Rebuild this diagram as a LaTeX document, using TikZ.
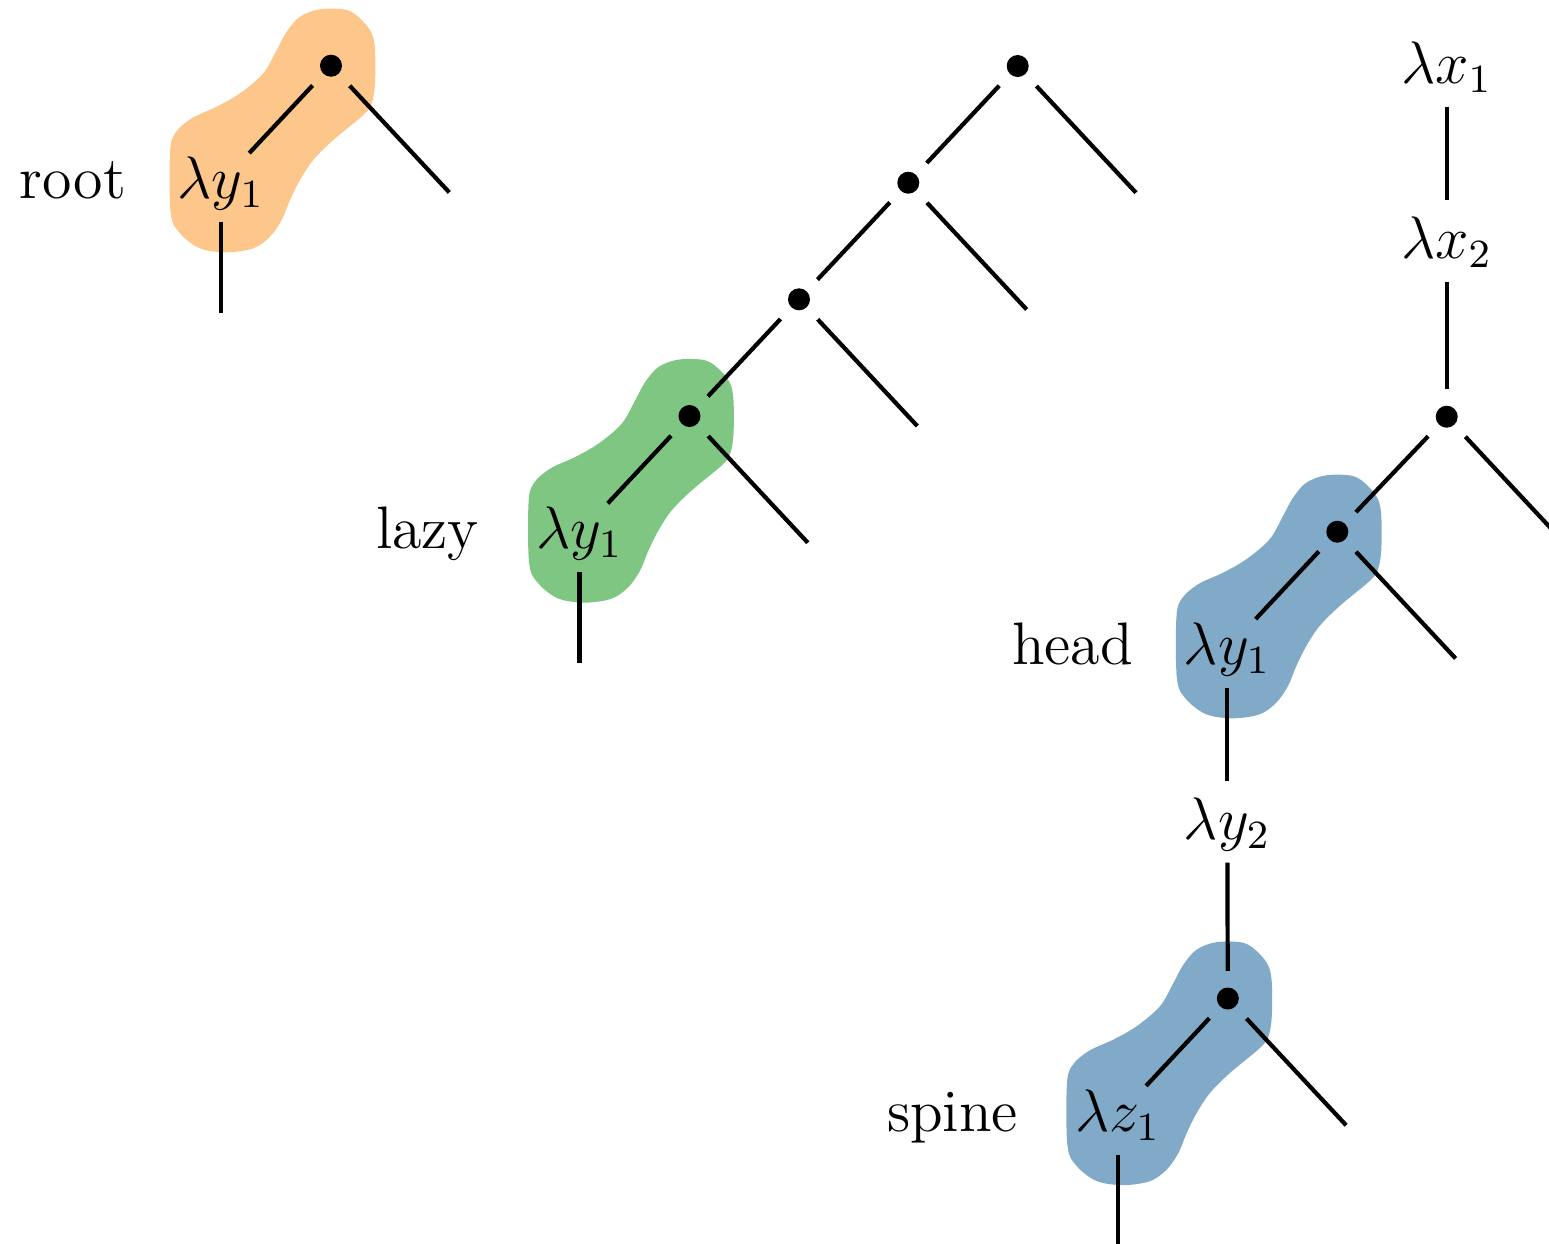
\documentclass[12pt,tikz,border=0pt]{standalone}
\usetikzlibrary{backgrounds}

\definecolor{hlorange}{RGB}{253,198,139}
\definecolor{hlgreen}{RGB}{128,198,131}
\definecolor{hlblue}{RGB}{128,170,199}

\tikzset{
  edge/.style={line width=0.84pt},
  appnode/.style={circle,fill=black,inner sep=0pt,minimum size=4.4pt},
  lam/.style={inner sep=0pt,text height=8.33pt,text depth=2.33pt},
  tag/.style={inner sep=0pt,anchor=base east},
  d2d/.style={edge,shorten <=5.4pt,shorten >=5.4pt},
  d2l/.style={edge,shorten <=5.4pt,shorten >=8.28pt},
  d2leaf/.style={edge,shorten <=5.48pt},
  l2l/.style={edge,shorten <=7.68pt,shorten >=8.64pt},
  l2d/.style={edge,shorten <=7.68pt,shorten >=5.52pt},
  l2leaf/.style={edge,shorten <=7.68pt},
  blob/.pic={
    \path[pic actions] plot[smooth cycle,tension=0.55] coordinates {
      (-11,-56.4) (15.7,-55.7) (30.7,-45.7) (40.7,-32.4) (44,-15.7)
      (44,17.6) (40.7,37.6) (32.3,49.3) (2.3,74.3) (-17.7,94.3)
      (-31,114.3) (-41,134.3) (-49.3,154.3) (-61,171) (-77.7,182.6)
      (-104.3,186.6) (-131,182.6) (-151,167.6) (-160.3,147.6) (-161,87.6)
      (-156,67.6) (-139.3,52.6) (-114.3,41) (-91,27.6) (-67.7,7.6)
      (-54.3,-15.7) (-44.3,-34) (-31,-49)};
  }
}

\begin{document}
\begin{tikzpicture}[x=0.2pt,y=-0.2pt]
\useasboundingbox (0,0) rectangle (1549,1243);
\clip (0,0) rectangle (1549,1243);

% ---- root tree ----
\node[appnode] (r-app) at (331,65.7) {};
\node[lam] (r-lam) at (221,183.3) {$\lambda y_1$};
\coordinate (r-rl) at (449.3,192.4);
\coordinate (r-ll) at (221,313);
\node[tag] (r-tag) at (127,198.3) {root};
\draw[d2l] (r-app.center) -- (r-lam.center);
\draw[d2leaf] (r-app.center) -- (r-rl);
\draw[l2leaf] (r-lam.center) -- (r-ll);

% ---- lazy spine ----
\node[appnode] (z-a1) at (1017.7,66) {};
\node[appnode] (z-a2) at (908.3,182.7) {};
\node[appnode] (z-a3) at (799,299.3) {};
\node[appnode] (z-a4) at (689.5,416) {};
\coordinate (z-rl1) at (1136,192.7);
\coordinate (z-rl2) at (1026.6,309.4);
\coordinate (z-rl3) at (917.3,426);
\coordinate (z-rl4) at (807.8,542.7);
\node[lam] (z-lam) at (579.5,533.6) {$\lambda y_1$};
\coordinate (z-ll) at (579.5,663);
\node[tag] (z-tag) at (480,548.6) {lazy};
\draw[d2d] (z-a1.center) -- (z-a2.center);
\draw[d2d] (z-a2.center) -- (z-a3.center);
\draw[d2d] (z-a3.center) -- (z-a4.center);
\draw[d2l] (z-a4.center) -- (z-lam.center);
\foreach \i in {1,2,3,4} \draw[d2leaf] (z-a\i.center) -- (z-rl\i);
\draw[l2leaf] (z-lam.center) -- (z-ll);

% ---- head / spine tree ----
\node[lam] (h-x1) at (1446.7,68.3) {$\lambda x_1$};
\node[lam] (h-x2) at (1446.7,243.3) {$\lambda x_2$};
\node[appnode] (h-a1) at (1446.7,416.7) {};
\coordinate (h-rl1) at (1565,543.4);
\node[appnode] (h-a2) at (1337.3,531.7) {};
\coordinate (h-rl2) at (1455.6,658.4);
\node[lam] (h-y1) at (1227.3,649.3) {$\lambda y_1$};
\node[lam] (h-y2) at (1227.3,824.3) {$\lambda y_2$};
\node[appnode] (h-a3) at (1227.8,998.5) {};
\coordinate (h-rl3) at (1346.1,1125.2);
\node[lam] (h-z1) at (1117.8,1116.1) {$\lambda z_1$};
\coordinate (h-ll) at (1117.8,1250);
\node[tag] (h-tag) at (1134,664.3) {head};
\node[tag] (s-tag) at (1019,1131.1) {spine};
\draw[l2l] (h-x1.center) -- (h-x2.center);
\draw[l2d] (h-x2.center) -- (h-a1.center);
\draw[d2leaf] (h-a1.center) -- (h-rl1);
\draw[d2d] (h-a1.center) -- (h-a2.center);
\draw[d2leaf] (h-a2.center) -- (h-rl2);
\draw[d2l] (h-a2.center) -- (h-y1.center);
\draw[l2l] (h-y1.center) -- (h-y2.center);
\draw[l2d] (h-y2.center) -- (h-a3.center);
\draw[d2leaf] (h-a3.center) -- (h-rl3);
\draw[d2l] (h-a3.center) -- (h-z1.center);
\draw[l2leaf] (h-z1.center) -- (h-ll);

% ---- highlighted redexes ----
\begin{scope}[on background layer]
  \pic[fill=hlorange] at (r-app.center) {blob};
  \pic[fill=hlgreen] at (z-a4.center) {blob};
  \pic[fill=hlblue] at (h-a2.center) {blob};
  \pic[fill=hlblue] at (h-a3.center) {blob};
\end{scope}
\end{tikzpicture}
\end{document}
